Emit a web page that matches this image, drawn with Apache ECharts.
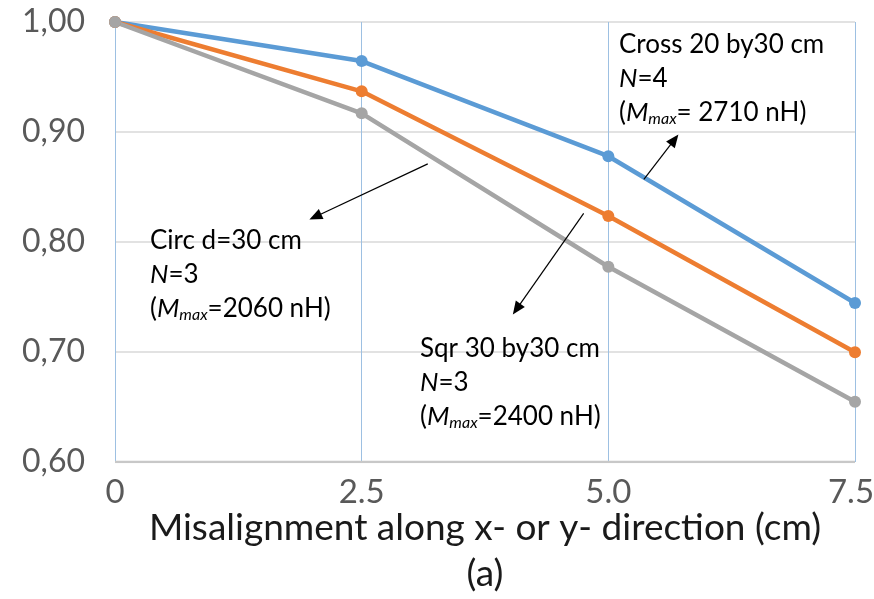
<!DOCTYPE html>
<html><head><meta charset="utf-8">
<script src="https://cdn.jsdelivr.net/npm/echarts@6/dist/echarts.min.js"></script>
<style>html,body{margin:0;padding:0;background:#fff}#c{width:874px;height:599px}</style>
</head><body><div id="c"></div>
<script>
const xValues = [0, 2.5, 5.0, 7.5];
const crossValues = [1.00, 0.9645, 0.878, 0.7445];
const sqrValues = [1.00, 0.937, 0.8236, 0.6997];
const circValues = [1.00, 0.917, 0.7775, 0.6548];
const yTicks = [0.6, 0.7, 0.8, 0.9, 1.0];
const xTickLabels = ['0', '2.5', '5.0', '7.5'];
// annotation arrows in data coordinates: [fromX, fromY, toX, toY]
const arrowCross = [5.36, 0.857, 5.67, 0.893];
const arrowCirc = [3.17, 0.871, 2.03, 0.823];
const arrowSqr = [4.75, 0.826, 4.07, 0.739];

const FONT = 'Lato, "Open Sans", sans-serif';
const pairs = v => xValues.map((x, i) => [x, v[i]]);
const arrow = a => [{coord: [a[0], a[1]], symbol: 'none'}, {coord: [a[2], a[3]], symbol: 'triangle', symbolSize: [11, 13]}];

const chart = echarts.init(document.getElementById('c'));
const rich = {
  i: {fontStyle: 'italic', fontSize: 26, fontFamily: FONT, lineHeight: 34, color: '#000'},
  s: {fontStyle: 'italic', fontSize: 16, fontFamily: FONT, padding: [11, 0, 0, 0], color: '#000'}
};
function note(left, top, text) {
  return {type: 'text', left: left, top: top, z: 10,
    style: {text: text, fontSize: 26, fontFamily: FONT, lineHeight: 34, fill: '#000', rich: rich}};
}
chart.setOption({
  animation: false,
  grid: {left: 115, right: 19, top: 22, bottom: 137, outerBoundsMode: 'none', containLabel: false},
  xAxis: {
    type: 'value', min: 0, max: 7.5, interval: 2.5,
    axisLine: {show: false}, axisTick: {show: false},
    splitLine: {show: true, lineStyle: {color: '#9dc0e2', width: 1}},
    axisLabel: {fontSize: 33, fontFamily: FONT, color: '#595959', margin: 14,
      formatter: v => v === 7.5 ? '{last|' + xTickLabels[xValues.indexOf(v)] + '}' : xTickLabels[xValues.indexOf(v)],
      rich: {last: {fontSize: 33, fontFamily: FONT, color: '#595959', padding: [0, 8, 0, 0]}}},
    name: 'Misalignment along x- or y- direction (cm)\n(a)',
    nameLocation: 'middle', nameGap: 43, nameMoveOverlap: false,
    nameTextStyle: {fontSize: 37, fontFamily: FONT, color: '#1a1a1a', lineHeight: 46, verticalAlign: 'top'}
  },
  yAxis: {
    type: 'value', min: 0.6, max: 1.0, interval: 0.1,
    axisLine: {show: false}, axisTick: {show: false},
    splitLine: {lineStyle: {color: '#d9d9d9', width: 1.5}},
    axisLabel: {fontSize: 32, fontFamily: FONT, color: '#595959', margin: 30,
      formatter: v => v.toFixed(2).replace('.', ',')}
  },
  series: [
    {type: 'line', data: [[0, 0.6], [7.5, 0.6]], symbol: 'none', silent: true,
      lineStyle: {color: '#c8c8c8', width: 2.5}, z: 1},
    {name: 'Cross', type: 'line', data: pairs(crossValues), color: '#5b9bd5',
      lineStyle: {width: 4.5}, symbol: 'circle', symbolSize: 12, z: 3,
      markLine: {silent: true, symbol: ['none', 'triangle'], label: {show: false},
        lineStyle: {color: '#000', width: 1.2, type: 'solid'},
        data: [arrow(arrowCross), arrow(arrowCirc), arrow(arrowSqr)]}},
    {name: 'Sqr', type: 'line', data: pairs(sqrValues), color: '#ed7d31',
      lineStyle: {width: 4.5}, symbol: 'circle', symbolSize: 12, z: 3},
    {name: 'Circ', type: 'line', data: pairs(circValues), color: '#a5a5a5',
      lineStyle: {width: 4.5}, symbol: 'circle', symbolSize: 12, z: 3}
  ],
  graphic: [
    note(619, 28, 'Cross 20 by30 cm\n{i|N}=4\n({i|M}{s|max}= 2710 nH)'),
    note(150, 224, 'Circ d=30 cm\n{i|N}=3\n({i|M}{s|max}=2060 nH)'),
    note(420, 332, 'Sqr 30 by30 cm\n{i|N}=3\n({i|M}{s|max}=2400 nH)')
  ]
});
</script></body></html>
